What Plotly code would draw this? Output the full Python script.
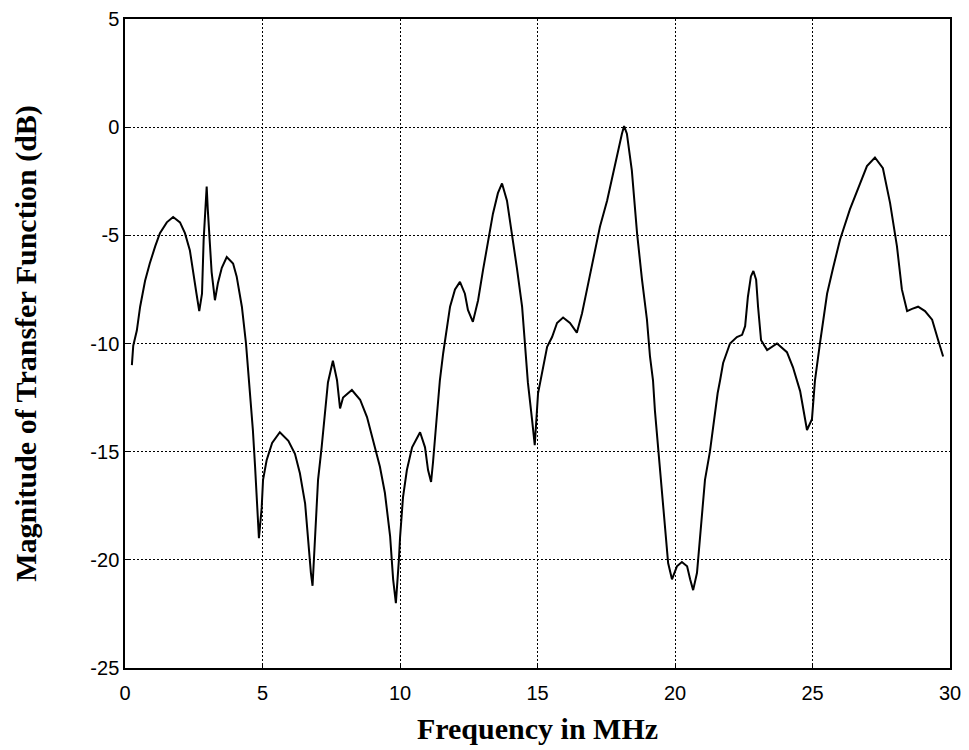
import plotly.graph_objects as go

freq_mhz = [0.25, 0.30, 0.43, 0.55, 0.73, 0.90, 1.10, 1.27, 1.52, 1.75, 2.00, 2.18, 2.36, 2.47, 2.60, 2.70,
            2.80, 2.86, 2.93, 2.97, 3.01, 3.07, 3.15, 3.27, 3.38, 3.52, 3.70, 3.93, 4.06, 4.25, 4.40, 4.50,
            4.57, 4.65, 4.73, 4.80, 4.87, 4.97, 5.02, 5.15, 5.35, 5.63, 5.94, 6.18, 6.36, 6.55, 6.65, 6.76,
            6.82, 6.91, 7.02, 7.15, 7.27, 7.38, 7.56, 7.71, 7.82, 7.93, 8.25, 8.55, 8.80, 9.02, 9.27, 9.45,
            9.64, 9.75, 9.85, 9.96, 10.00, 10.11, 10.25, 10.44, 10.73, 10.91, 11.02, 11.13, 11.20, 11.35,
            11.45, 11.57, 11.71, 11.82, 12.00, 12.18, 12.36, 12.47, 12.65, 12.84, 13.02, 13.20, 13.38, 13.56,
            13.71, 13.89, 14.07, 14.25, 14.44, 14.55, 14.65, 14.80, 14.90, 15.02, 15.20, 15.35, 15.53, 15.71,
            15.93, 16.18, 16.43, 16.62, 16.80, 17.02, 17.27, 17.53, 17.75, 17.93, 18.07, 18.15, 18.25, 18.43,
            18.62, 18.80, 18.98, 19.09, 19.20, 19.27, 19.38, 19.53, 19.64, 19.75, 19.89, 20.07, 20.25, 20.44,
            20.55, 20.66, 20.80, 20.91, 21.09, 21.27, 21.45, 21.55, 21.64, 21.75, 22.00, 22.25, 22.44, 22.55,
            22.65, 22.76, 22.85, 22.95, 23.02, 23.13, 23.35, 23.71, 24.07, 24.29, 24.55, 24.73, 24.80, 24.98,
            25.09, 25.27, 25.53, 25.75, 26.00, 26.36, 26.73, 26.98, 27.27, 27.56, 27.82, 28.07, 28.25, 28.44,
            28.62, 28.84, 29.09, 29.35, 29.56, 29.75]

magnitude_db = [-11.0, -10.1, -9.4, -8.3, -7.1, -6.3, -5.5, -4.9, -4.4, -4.15, -4.4, -4.9, -5.7, -6.7, -7.7, -8.5,
                -7.7, -5.2, -3.8, -2.75, -3.8, -5.2, -6.7, -8.0, -7.2, -6.5, -6.0, -6.3, -6.9, -8.3, -10.0, -11.6,
                -12.6, -14.0, -15.7, -17.6, -19.0, -17.6, -16.3, -15.4, -14.6, -14.1, -14.5, -15.1, -16.0, -17.4, -19.1, -20.6,
                -21.2, -19.1, -16.3, -14.8, -13.2, -11.8, -10.8, -11.7, -13.0, -12.5, -12.15, -12.6, -13.4, -14.5, -15.7, -16.9,
                -18.9, -20.9, -22.0, -20.0, -19.0, -17.1, -15.85, -14.8, -14.1, -14.8, -15.85, -16.4, -15.5, -13.2,
                -11.7, -10.45, -9.25, -8.3, -7.5, -7.15, -7.7, -8.45, -9.0, -8.0, -6.6, -5.35, -4.0, -3.05,
                -2.6, -3.4, -4.9, -6.5, -8.3, -10.2, -11.8, -13.5, -14.7, -12.3, -11.1, -10.15, -9.7, -9.05,
                -8.8, -9.05, -9.5, -8.6, -7.5, -6.15, -4.6, -3.4, -2.1, -1.2, -0.3, 0.05, -0.3, -2.0,
                -4.9, -7.05, -8.9, -10.6, -11.7, -13.1, -14.8, -17.1, -18.6, -20.15, -20.9, -20.3, -20.1, -20.3,
                -20.9, -21.4, -20.6, -18.8, -16.3, -15.0, -13.2, -12.3, -11.7, -10.9, -10.0, -9.7, -9.6, -9.2,
                -7.85, -6.9, -6.65, -7.05, -8.3, -9.85, -10.3, -10.0, -10.4, -11.1, -12.2, -13.5, -14.0, -13.5,
                -11.7, -10.0, -7.7, -6.5, -5.2, -3.8, -2.6, -1.8, -1.4, -1.9, -3.5, -5.5, -7.5, -8.5,
                -8.4, -8.3, -8.5, -8.9, -9.8, -10.6]

x_ticks = [0, 5, 10, 15, 20, 25, 30]
y_ticks = [-25, -20, -15, -10, -5, 0, 5]

fig = go.Figure()
fig.add_trace(go.Scatter(x=freq_mhz, y=magnitude_db, mode="lines",
                         line=dict(color="black", width=2), showlegend=False))

axis_common = dict(
    showline=True, linecolor="black", linewidth=1.5, mirror=True,
    showgrid=True, gridcolor="black", gridwidth=1.2, griddash="2px,2px",
    zeroline=False, ticks="inside", ticklen=5, tickcolor="black",
    automargin=False,
    tickfont=dict(family="Arial, Liberation Sans", size=20, color="black"),
)

title_font = dict(family="Times New Roman, Liberation Serif", size=30, color="black")

fig.update_xaxes(range=[0, 30], tickvals=x_ticks, ticktext=[str(v) for v in x_ticks],
                 ticklabelstandoff=6,
                 title=dict(text="<b>Frequency in MHz</b>", standoff=15, font=title_font),
                 **axis_common)
fig.update_yaxes(range=[-25, 5], tickvals=y_ticks, ticktext=[str(v) for v in y_ticks],
                 title=dict(text="<b>Magnitude of Transfer Function (dB)</b>", standoff=45, font=title_font),
                 **axis_common)

# page body has an 8px margin, so the figure is sized to 961x742 to fit the 969x750 window
fig.update_layout(width=961, height=742, margin=dict(l=117, r=19, t=11, b=82),
                  paper_bgcolor="white", plot_bgcolor="white")

fig.write_html("out.html")
